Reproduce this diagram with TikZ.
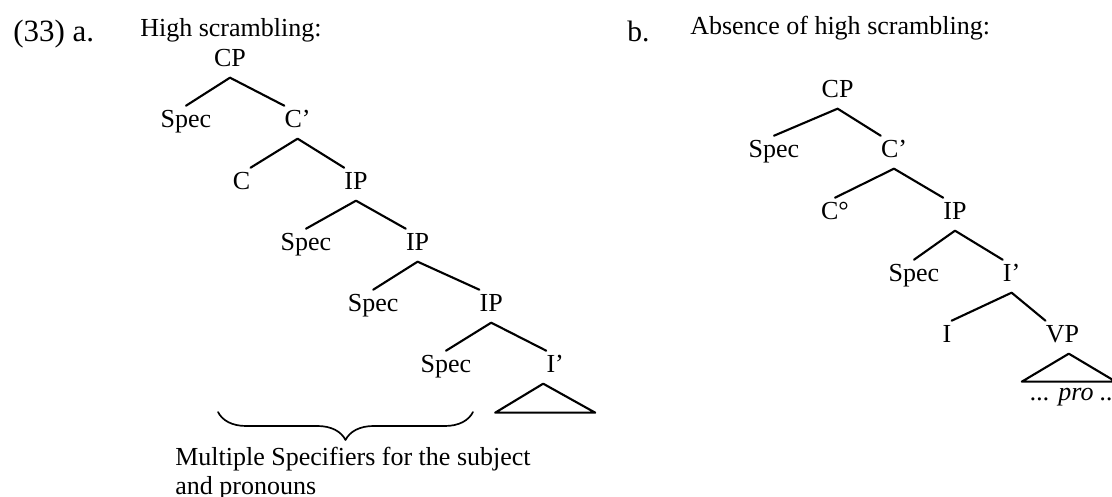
\documentclass[tikz,border=0pt]{standalone}
\usepackage{fontspec}
\setmainfont{Liberation Serif}
\usetikzlibrary{calc,decorations.pathreplacing}

\begin{document}
\begin{tikzpicture}[font=\fontsize{18.5pt}{20.5pt}\selectfont,line cap=round,line join=round,
    lab/.style={inner sep=0pt,text height=.55cm,text depth=.26cm,anchor=base},
    branch/.style={line width=1.5pt}]
  \clip (0,0) rectangle (27.8,-12.425);

  % headings
  \node[anchor=base west,inner sep=0pt,font=\fontsize{22pt}{24pt}\selectfont] (exA) at (.325,-1.05) {(33) a.};
  \node[anchor=base west,inner sep=0pt] (titleA) at (3.5,-.925) {High scrambling:};
  \node[anchor=base west,inner sep=0pt,font=\fontsize{21pt}{24pt}\selectfont] (exB) at (15.675,-1.05) {b.};
  \node[anchor=base west,inner sep=0pt] (titleB) at (17.25,-.875) {Absence of high scrambling:};

  % (a) high scrambling
  \node[lab] (cpA) at (5.75,-1.675) {CP};
  \node[lab] (specA1) at (4.65,-3.2) {Spec};
  \node[lab] (cbarA) at (7.44,-3.2) {C’};
  \node[lab] (cA) at (6.04,-4.75) {C};
  \node[lab] (ipA1) at (8.9,-4.75) {IP};
  \node[lab] (specA2) at (7.65,-6.275) {Spec};
  \node[lab] (ipA2) at (10.44,-6.275) {IP};
  \node[lab] (specA3) at (9.33,-7.8) {Spec};
  \node[lab] (ipA3) at (12.28,-7.8) {IP};
  \node[lab] (specA4) at (11.15,-9.325) {Spec};
  \node[lab] (ibarA) at (13.88,-9.325) {I’};

  \draw[branch] (specA1.north) -- (cpA.south) -- (cbarA.north west);
  \draw[branch] (cA.north east) -- (cbarA.south) -- (ipA1.north west);
  \draw[branch] (specA2.north) -- (ipA1.south) -- (ipA2.north west);
  \draw[branch] (specA3.north) -- (ipA2.south) -- (ipA3.north west);
  \draw[branch] (specA4.north) -- (ipA3.south) -- (ibarA.north west);
  \draw[branch] ($(ibarA.south)+(-.3,0)$) -- ++(-1.2,-.725) -- ++(2.5,0) -- cycle;

  \coordinate (braceL) at (5.45,-10.3);
  \coordinate (braceR) at (11.825,-10.3);
  \draw[line width=1.2pt,decorate,decoration={brace,mirror,amplitude=.7cm}] (braceL) -- (braceR);
  \node[anchor=north west,inner sep=0pt,align=left] (note) at (4.375,-11.175)
    {Multiple Specifiers for the subject\\and pronouns};

  % (b) absence of high scrambling
  \node[lab] (cpB) at (20.94,-2.45) {CP};
  \node[lab] (specB1) at (19.35,-3.95) {Spec};
  \node[lab] (cbarB) at (22.35,-3.95) {C’};
  \node[lab] (cB) at (20.875,-5.5) {C°};
  \node[lab] (ipB) at (23.875,-5.5) {IP};
  \node[lab] (specB2) at (22.85,-7.05) {Spec};
  \node[lab] (ibarB) at (25.29,-7.05) {I’};
  \node[lab] (iB) at (23.675,-8.575) {I};
  \node[lab] (vpB) at (26.56,-8.575) {VP};

  \draw[branch] (specB1.north) -- (cpB.south) -- (cbarB.north west);
  \draw[branch] (cB.north) -- (cbarB.south) -- (ipB.north west);
  \draw[branch] (specB2.north) -- (ipB.south) -- (ibarB.north west);
  \draw[branch] (iB.north east) -- (ibarB.south) -- (vpB.north west);
  \draw[branch] ($(vpB.south)+(.16,0)$) -- ++(-1.175,-.7) -- ++(2.35,0) -- cycle;
  \node[anchor=base west,inner sep=0pt] (proB) at (25.75,-10.025) {\textit{... pro ...}};
\end{tikzpicture}
\end{document}
